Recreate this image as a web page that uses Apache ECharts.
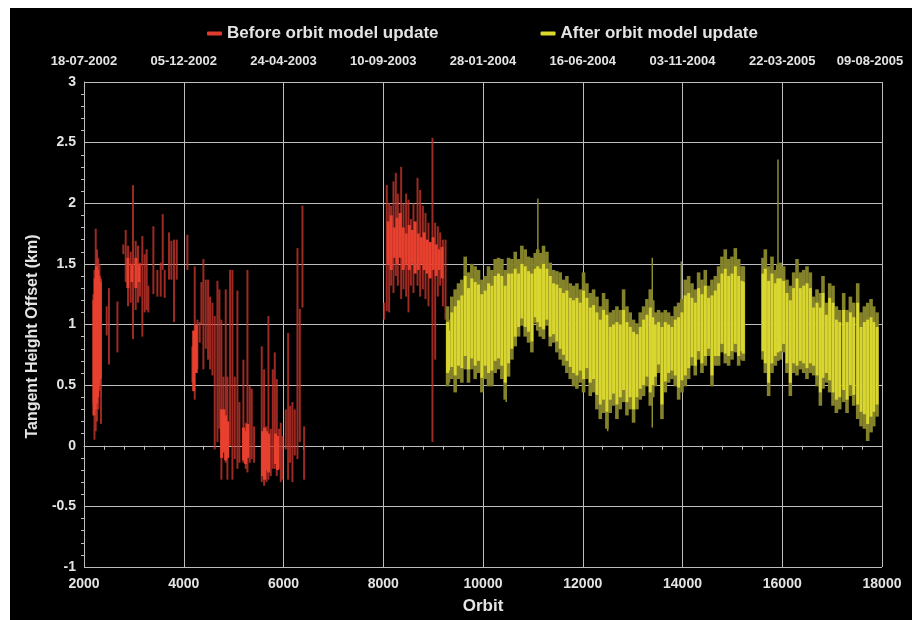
<!DOCTYPE html>
<html>
  <head>
    <meta charset="utf-8" />
    <script src="https://cdn.jsdelivr.net/npm/echarts@6.0.0/dist/echarts.min.js"></script>
    <style>
      body { margin: 0; background: #fff; }
      #main { position: absolute; left: 10px; top: 8px; width: 902px; height: 612px; background: #000; }
    </style>
  </head>
  <body>
    <div id="main"></div>
    <script type="text/javascript">
      var myChart = echarts.init(document.getElementById('main'));

      // top axis: dates matching the orbit ticks 2000, 4000, ... 18000
      const dateLabels = ['18-07-2002', '05-12-2002', '24-04-2003', '10-09-2003', '28-01-2004',
                          '16-06-2004', '03-11-2004', '22-03-2005', '09-08-2005'];

      // before orbit model update: single traces [orbit, low, high]
      const redLines = [
        [2190, 0.35, 1.25], [2210, 0.05, 1.45], [2235, 0.12, 1.79], [2260, 0.2, 1.62],
        [2285, 0.3, 1.55], [2310, 0.45, 1.5], [2340, 0.18, 1.38],
        [2455, 0.91, 1.15], [2500, 0.67, 1.30], [2670, 0.77, 1.19],
        [2789, 1.58, 1.66], [2836, 1.35, 1.78], [2883, 1.15, 1.65], [2936, 1.18, 1.6],
        [2983, 0.88, 2.15], [3036, 1.12, 1.69], [3083, 1.18, 1.65], [3123, 1.23, 1.51],
        [3170, 0.90, 1.73], [3217, 1.10, 1.58], [3257, 1.12, 1.62], [3290, 1.1, 1.32],
        [3391, 1.25, 1.81], [3471, 1.23, 1.45], [3538, 1.23, 1.51], [3578, 1.45, 1.91],
        [3618, 1.22, 1.45], [3705, 1.37, 1.76], [3752, 1.37, 1.69], [3805, 1.02, 1.70],
        [3859, 1.37, 1.70], [4073, 1.45, 1.74],
        [4173, 0.52, 0.82], [4220, 0.38, 1.48], [4274, 0.63, 1.04], [4320, 0.85, 1.02],
        [4354, 1.0, 1.35], [4394, 0.63, 1.54], [4441, 0.8, 1.37], [4488, 0.71, 1.37],
        [4528, 0.63, 1.23],
        [4575, 0.58, 1.18], [4621, -0.03, 1.07], [4675, 0.03, 1.36], [4715, 0.14, 1.29],
        [4755, -0.28, 1.04], [4795, -0.06, 0.57], [4842, -0.14, 1.29], [4875, -0.28, 0.57],
        [4929, 0.0, 1.45], [4976, -0.28, 1.45], [5023, -0.11, 0.57], [5076, -0.19, 1.28],
        [5116, -0.14, 0.36],
        [5196, -0.14, 0.71], [5243, -0.19, 0.19], [5277, -0.22, 1.45], [5323, -0.14, 0.49],
        [5363, -0.11, 0.47], [5410, -0.14, 0.16],
        [5564, -0.30, 0.82], [5611, -0.33, 0.63], [5658, -0.30, 0.16], [5698, -0.28, 1.07],
        [5745, -0.25, 0.14], [5785, -0.19, 0.63], [5825, -0.19, 0.77], [5865, -0.25, 0.55],
        [5912, -0.19, 0.14], [5945, -0.30, 0.19], [5979, -0.28, 0.08],
        [6046, -0.03, 0.30], [6093, -0.28, 0.93], [6133, -0.14, 0.33], [6179, -0.30, 0.36],
        [6226, -0.08, 0.30], [6280, -0.11, 1.63], [6327, 0.03, 1.13], [6380, 1.14, 1.98],
        [6413, -0.28, 0.16],
        [8018, 1.04, 1.18], [8071, 1.11, 2.15], [8118, 1.10, 2.0], [8158, 1.32, 1.98],
        [8205, 1.26, 2.18], [8252, 1.40, 2.25], [8292, 1.32, 2.08], [8359, 1.21, 2.30],
        [8406, 1.29, 2.0], [8459, 1.23, 2.08], [8506, 1.10, 2.03], [8553, 1.32, 1.87],
        [8606, 1.26, 2.0], [8687, 1.32, 2.21], [8740, 1.23, 2.11], [8794, 1.29, 1.98],
        [8847, 1.21, 1.92], [8907, 1.15, 1.84], [8987, 0.03, 2.54], [9041, 0.71, 1.84],
        [9094, 1.23, 1.81], [9141, 1.32, 1.76], [9195, 1.15, 1.70], [9248, 1.04, 1.70]
      ];

      // before update: dense bright part [orbit, low, high]
      const redCore = [
        [2200, 0.25, 1.2], [2225, 0.3, 1.38], [2250, 0.35, 1.48], [2275, 0.4, 1.45],
        [2300, 0.5, 1.4], [2325, 0.55, 1.35],
        [2880, 1.3, 1.55], [2960, 1.35, 1.5], [3040, 1.3, 1.55], [3100, 1.35, 1.5],
        [4200, 0.45, 0.95], [4250, 0.6, 1.0],
        [4760, -0.1, 0.3], [4800, -0.05, 0.3], [4840, -0.12, 0.25], [4880, -0.1, 0.2],
        [5200, -0.12, 0.15], [5240, -0.15, 0.12], [5280, -0.1, 0.18],
        [5580, -0.25, 0.12], [5620, -0.28, 0.15], [5660, -0.2, 0.12], [5700, -0.22, 0.1],
        [5840, -0.15, 0.1], [5880, -0.2, 0.08],
        [8100, 1.5, 1.85], [8160, 1.45, 1.9], [8220, 1.55, 1.8], [8280, 1.5, 1.88],
        [8340, 1.55, 1.92], [8400, 1.45, 1.8], [8460, 1.5, 1.75], [8520, 1.45, 1.82],
        [8580, 1.5, 1.78], [8640, 1.42, 1.85], [8700, 1.45, 1.75], [8760, 1.5, 1.72],
        [8820, 1.45, 1.76], [8880, 1.42, 1.7], [8940, 1.38, 1.68], [9000, 1.45, 1.72],
        [9060, 1.4, 1.66], [9120, 1.45, 1.62], [9180, 1.38, 1.64]
      ];

      // after orbit model update: [orbit, low, high, coreLow, coreHigh]
      const yellowBins = [
        [9290, 0.49, 1.15, 0.60, 1.02], [9308, 0.52, 1.04, 0.62, 0.95], [9375, 0.55, 1.23, 0.65, 1.10],
        [9442, 0.44, 1.29, 0.58, 1.15], [9509, 0.55, 1.34, 0.66, 1.20], [9576, 0.52, 1.37, 0.64, 1.24],
        [9643, 0.63, 1.56, 0.74, 1.40], [9709, 0.52, 1.43, 0.63, 1.30], [9776, 0.63, 1.50, 0.72, 1.38],
        [9843, 0.55, 1.48, 0.66, 1.35], [9910, 0.60, 1.45, 0.70, 1.33], [9977, 0.44, 1.37, 0.56, 1.25],
        [10044, 0.55, 1.40, 0.66, 1.28], [10111, 0.49, 1.48, 0.60, 1.34], [10178, 0.49, 1.45, 0.62, 1.32],
        [10244, 0.60, 1.54, 0.70, 1.40], [10311, 0.63, 1.55, 0.72, 1.42], [10378, 0.55, 1.54, 0.66, 1.40],
        [10445, 0.38, 1.45, 0.52, 1.32], [10512, 0.57, 1.55, 0.68, 1.42], [10579, 0.71, 1.54, 0.80, 1.42],
        [10646, 0.82, 1.60, 0.90, 1.46], [10713, 0.90, 1.54, 0.98, 1.42], [10779, 0.99, 1.65, 1.05, 1.50],
        [10846, 0.90, 1.62, 0.98, 1.48], [10913, 0.85, 1.56, 0.94, 1.44], [10980, 0.77, 1.55, 0.86, 1.42],
        [11047, 1.01, 1.59, 1.06, 1.46], [11097, 0.95, 1.62, 1.02, 1.48], [11147, 0.90, 1.59, 0.98, 1.46],
        [11214, 0.88, 1.65, 0.96, 1.50], [11281, 0.99, 1.60, 1.04, 1.46], [11348, 0.82, 1.51, 0.90, 1.40],
        [11415, 0.85, 1.45, 0.92, 1.34], [11481, 0.77, 1.44, 0.86, 1.33], [11548, 0.71, 1.43, 0.80, 1.30],
        [11615, 0.66, 1.37, 0.75, 1.26], [11682, 0.60, 1.40, 0.70, 1.28], [11749, 0.55, 1.34, 0.65, 1.22],
        [11816, 0.49, 1.32, 0.60, 1.20], [11883, 0.47, 1.34, 0.58, 1.22], [11949, 0.52, 1.29, 0.62, 1.18],
        [12016, 0.44, 1.43, 0.55, 1.28], [12083, 0.55, 1.34, 0.64, 1.22], [12150, 0.41, 1.26, 0.52, 1.14],
        [12217, 0.44, 1.29, 0.55, 1.16], [12284, 0.30, 1.23, 0.42, 1.10], [12351, 0.22, 1.15, 0.34, 1.04],
        [12417, 0.27, 1.26, 0.38, 1.12], [12484, 0.14, 1.21, 0.28, 1.08], [12551, 0.27, 1.10, 0.38, 0.98],
        [12618, 0.33, 1.12, 0.43, 1.00], [12685, 0.22, 1.15, 0.34, 1.02], [12752, 0.30, 1.12, 0.40, 1.00],
        [12819, 0.36, 1.29, 0.46, 1.12], [12886, 0.25, 1.15, 0.36, 1.02], [12952, 0.30, 1.10, 0.40, 0.98],
        [13019, 0.19, 1.04, 0.30, 0.94], [13086, 0.30, 1.01, 0.40, 0.92], [13153, 0.38, 1.10, 0.47, 0.98],
        [13220, 0.41, 1.15, 0.50, 1.04], [13287, 0.49, 1.21, 0.57, 1.08], [13354, 0.33, 1.29, 0.44, 1.14],
        [13404, 0.40, 1.20, 0.50, 1.06], [13454, 0.49, 1.10, 0.57, 1.00], [13521, 0.60, 1.12, 0.67, 1.02],
        [13588, 0.22, 1.10, 0.34, 0.98], [13655, 0.44, 1.12, 0.53, 1.02], [13721, 0.52, 1.10, 0.60, 1.00],
        [13788, 0.55, 1.07, 0.62, 0.98], [13855, 0.49, 1.15, 0.58, 1.04], [13922, 0.38, 1.18, 0.48, 1.06],
        [13989, 0.44, 1.21, 0.54, 1.10], [14056, 0.49, 1.37, 0.58, 1.24], [14123, 0.55, 1.40, 0.64, 1.26],
        [14190, 0.66, 1.34, 0.73, 1.22], [14256, 0.58, 1.29, 0.66, 1.18], [14323, 0.71, 1.43, 0.78, 1.30],
        [14390, 0.60, 1.37, 0.68, 1.25], [14457, 0.66, 1.45, 0.74, 1.32], [14524, 0.74, 1.32, 0.80, 1.22],
        [14591, 0.49, 1.37, 0.58, 1.24], [14658, 0.66, 1.40, 0.74, 1.28], [14724, 0.66, 1.48, 0.74, 1.34],
        [14791, 0.77, 1.56, 0.84, 1.42], [14858, 0.68, 1.62, 0.76, 1.46], [14925, 0.66, 1.54, 0.74, 1.40],
        [14992, 0.71, 1.56, 0.78, 1.42], [15059, 0.77, 1.63, 0.84, 1.48], [15126, 0.66, 1.54, 0.74, 1.40],
        [15193, 0.71, 1.48, 0.78, 1.36], [15220, 0.70, 1.48, 0.76, 1.35],
        [15614, 0.71, 1.55, 0.78, 1.42], [15661, 0.60, 1.62, 0.68, 1.46], [15727, 0.41, 1.48, 0.52, 1.36],
        [15794, 0.60, 1.56, 0.68, 1.42], [15861, 0.66, 1.45, 0.74, 1.34], [15911, 0.70, 1.50, 0.77, 1.38],
        [15961, 0.71, 1.51, 0.78, 1.38], [16028, 0.77, 1.48, 0.84, 1.36], [16095, 0.60, 1.37, 0.68, 1.26],
        [16162, 0.41, 1.32, 0.52, 1.20], [16229, 0.60, 1.43, 0.68, 1.30], [16296, 0.58, 1.54, 0.66, 1.38],
        [16363, 0.63, 1.43, 0.70, 1.30], [16430, 0.60, 1.45, 0.68, 1.32], [16496, 0.55, 1.48, 0.64, 1.34],
        [16563, 0.60, 1.43, 0.68, 1.30], [16630, 0.58, 1.23, 0.66, 1.14], [16697, 0.49, 1.29, 0.58, 1.18],
        [16764, 0.33, 1.26, 0.44, 1.14], [16817, 0.47, 1.40, 0.56, 1.26], [16884, 0.52, 1.18, 0.60, 1.08],
        [16951, 0.44, 1.34, 0.54, 1.22], [17018, 0.33, 1.32, 0.44, 1.18], [17085, 0.27, 1.15, 0.38, 1.04],
        [17152, 0.30, 1.12, 0.40, 1.02], [17232, 0.36, 1.26, 0.46, 1.12], [17299, 0.27, 1.12, 0.38, 1.02],
        [17366, 0.41, 1.23, 0.50, 1.10], [17433, 0.33, 1.18, 0.42, 1.06], [17513, 0.22, 1.34, 0.34, 1.18],
        [17580, 0.16, 1.10, 0.28, 0.98], [17647, 0.14, 1.15, 0.26, 1.02], [17713, 0.04, 1.18, 0.18, 1.04],
        [17780, 0.11, 1.21, 0.24, 1.06], [17834, 0.16, 1.15, 0.28, 1.02], [17901, 0.24, 1.10, 0.34, 0.98]
      ];

      // after update: isolated spikes [orbit, low, high]
      const yellowSpikes = [
        [10466, 0.36, 1.2], [11100, 0.95, 2.04], [12500, 0.12, 0.9], [13394, 0.15, 1.55],
        [13976, 0.5, 1.52], [15914, 0.75, 2.36], [17700, 0.04, 0.6]
      ];

      const textColor = '#e4e4e4';
      const gridColor = '#bdbdbd';
      const fontFamily = '"Liberation Sans", Arial, sans-serif';

      function ranges(dims, width, color) {
        return function (params, api) {
          const x = api.value(dims[0]);
          const top = api.coord([x, api.value(dims[2])]);
          const bot = api.coord([x, api.value(dims[1])]);
          return {
            type: 'rect',
            shape: { x: top[0] - width / 2, y: top[1], width: width, height: Math.max(1, bot[1] - top[1]) },
            style: { fill: color }
          };
        };
      }

      option = {
        animation: false,
        backgroundColor: '#000',
        textStyle: { fontFamily: fontFamily },
        legend: {
          left: 192,
          top: 12,
          itemGap: 102,
          itemWidth: 15,
          itemHeight: 4,
          icon: 'roundRect',
          selectedMode: false,
          textStyle: { color: textColor, fontSize: 17, fontWeight: 'bold', fontFamily: fontFamily },
          data: [
            { name: 'Before orbit model update', itemStyle: { color: '#e23a30' } },
            { name: 'After orbit model update', itemStyle: { color: '#dcd92e' } }
          ]
        },
        grid: { left: 74, right: 30, top: 74, bottom: 52 },
        xAxis: [
          { type: 'value',
            min: 2000,
            max: 18000,
            interval: 2000,
            name: 'Orbit',
            nameLocation: 'middle',
            nameGap: 31,
            nameTextStyle: { color: textColor, fontSize: 17, fontWeight: 'bold' },
            axisLine: { lineStyle: { color: gridColor } },
            axisTick: { show: false },
            minorTick: { show: true, splitNumber: 5, length: 4, lineStyle: { color: gridColor } },
            splitLine: { show: true, lineStyle: { color: gridColor, width: 1 } },
            axisLabel: {
              color: textColor, fontSize: 14, fontWeight: 'bold', margin: 10,
              formatter: function (v) { return String(v); }
            }
          },
          { type: 'value',
            position: 'top',
            min: 2000,
            max: 18000,
            interval: 2000,
            axisLine: { show: false },
            axisTick: { show: false },
            splitLine: { show: false },
            axisLabel: {
              color: textColor,
              fontSize: 13,
              fontWeight: 'bold',
              margin: 14,
              formatter: function (v) {
                const i = Math.round((v - 2000) / 2000);
                if (i === dateLabels.length - 1) return '{last|' + dateLabels[i] + '}';
                return dateLabels[i];
              },
              rich: {
                last: { color: textColor, fontSize: 13, fontWeight: 'bold', fontFamily: fontFamily, padding: [0, 24, 0, 0] }
              }
            }
          }
        ],
        yAxis: {
          type: 'value',
          min: -1,
          max: 3,
          interval: 0.5,
          name: 'Tangent Height Offset (km)',
          nameLocation: 'middle',
          nameGap: 38,
          nameTextStyle: { color: textColor, fontSize: 16, fontWeight: 'bold', padding: [0, 24, 0, 0] },
          axisLine: { show: true, lineStyle: { color: gridColor } },
          axisTick: { show: false },
          minorTick: { show: true, splitNumber: 5, length: 3, lineStyle: { color: gridColor } },
          splitLine: { show: true, lineStyle: { color: gridColor, width: 1 } },
          axisLabel: { color: textColor, fontSize: 14, fontWeight: 'bold', margin: 8 }
        },
        series: [
          { name: 'Before orbit model update',
            type: 'custom',
            clip: true,
            itemStyle: { color: '#e23a30' },
            renderItem: ranges([0, 1, 2], 2, 'rgba(196, 52, 42, 0.8)'),
            data: redLines
          },
          { name: 'Before orbit model update',
            type: 'custom',
            clip: true,
            itemStyle: { color: '#e23a30' },
            renderItem: ranges([0, 1, 2], 3, '#e8402f'),
            data: redCore
          },
          { name: 'After orbit model update',
            type: 'custom',
            clip: true,
            itemStyle: { color: '#dcd92e' },
            renderItem: ranges([0, 1, 2], 1.5, '#8e8b2a'),
            data: yellowSpikes
          },
          { name: 'After orbit model update',
            type: 'custom',
            clip: true,
            itemStyle: { color: '#dcd92e' },
            renderItem: ranges([0, 1, 2], 3.6, '#84822a'),
            data: yellowBins
          },
          { name: 'After orbit model update',
            type: 'custom',
            clip: true,
            itemStyle: { color: '#dcd92e' },
            renderItem: ranges([0, 3, 4], 3.0, '#d9d62f'),
            data: yellowBins
          }
        ]
      };

      myChart.setOption(option);
    </script>
  </body>
</html>
